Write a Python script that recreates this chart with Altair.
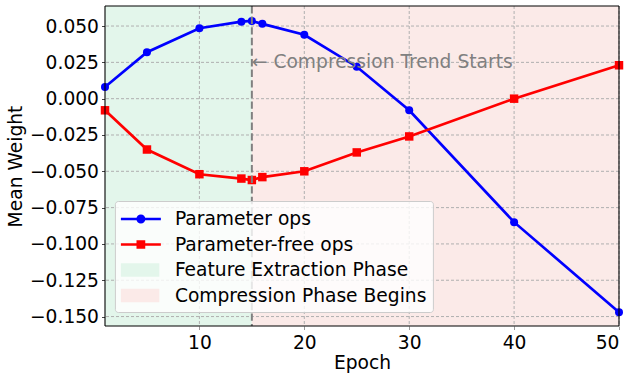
import altair as alt
import pandas as pd

# ---------------- data ----------------
epochs = [1, 5, 10, 14, 15, 16, 20, 25, 30, 40, 50]
param_ops = [0.008, 0.032, 0.0485, 0.053, 0.0535, 0.0515, 0.044, 0.022, -0.008, -0.085, -0.147]
param_free_ops = [-0.008, -0.035, -0.052, -0.055, -0.056, -0.054, -0.050, -0.037, -0.026, 0.000, 0.023]

series_names = ["Parameter ops", "Parameter-free ops",
                "Feature Extraction Phase", "Compression Phase Begins"]
series_colors = ["#0000ff", "#ff0000", "#e3f6eb", "#fbeae8"]

phase_names = ["Feature Extraction Phase", "Compression Phase Begins"]
phase_start = [1, 15]
phase_end = [15, 50]

x_ticks = [10, 20, 30, 40, 50]
y_ticks = [-0.150, -0.125, -0.100, -0.075, -0.050, -0.025, 0.000, 0.025, 0.050]
x_domain = [1, 50]
y_domain = [-0.1565, 0.0638]

trend_epoch = [15]
annotation_text = ["\u2190 Compression Trend Starts"]
annotation_epoch = [15]
annotation_value = [0.025]

# ---------------- styling ----------------
FONT = "DejaVu Sans"
FS = 18.67

# legend symbol shapes (custom SVG paths, unit = 12 px at symbolSize 576)
LINE_CIRCLE = ("M-1,-0.11H2.33V0.11H-1Z "
               "M0.29,0A0.375,0.375 0 1,1 1.04,0A0.375,0.375 0 1,1 0.29,0Z")
LINE_SQUARE = "M-1,-0.11H2.33V0.11H-1Z M0.30,-0.36H1.03V0.36H0.30Z"
PATCH = "M-1,-0.56H2.2V0.56H-1Z"
shape_paths = [LINE_CIRCLE, LINE_SQUARE, PATCH, PATCH]

lines_df = pd.DataFrame({
    "epoch": epochs + epochs,
    "value": param_ops + param_free_ops,
    "series": [series_names[0]] * len(epochs) + [series_names[1]] * len(epochs),
})
bands_df = pd.DataFrame({"epoch": phase_start, "epoch_end": phase_end, "series": phase_names})
xgrid_df = pd.DataFrame({"epoch": x_ticks})
ygrid_df = pd.DataFrame({"value": y_ticks})
xframe_df = pd.DataFrame({"epoch": x_domain})
yframe_df = pd.DataFrame({"value": y_domain})
vrule_df = pd.DataFrame({"epoch": trend_epoch})
text_df = pd.DataFrame({"epoch": annotation_epoch, "value": annotation_value, "text": annotation_text})
legend_df = pd.DataFrame({"series": series_names})

x_scale = alt.Scale(domain=x_domain, nice=False, zero=False)
y_scale = alt.Scale(domain=y_domain, nice=False, zero=False)
color_scale = alt.Scale(domain=series_names, range=series_colors)

x_axis = alt.Axis(values=x_ticks, title="Epoch", grid=False, domain=False,
                  format="d", tickSize=3.5, tickColor="#999999", labelPadding=4,
                  titleY=42, titleBaseline="alphabetic")
y_axis = alt.Axis(values=y_ticks, title="Mean Weight", grid=False, domain=False,
                  labelExpr="replace(format(datum.value, '.3f'), '-', '\u2212')",
                  tickSize=3.5, tickColor="#444444", labelPadding=3,
                  titleX=-89.5, titleY=160, titleBaseline="middle")

X = alt.X("epoch:Q", scale=x_scale, axis=x_axis)
Y = alt.Y("value:Q", scale=y_scale, axis=y_axis)


def band(i):
    return alt.Chart(bands_df).transform_filter(
        alt.datum.series == phase_names[i]
    ).mark_rect(opacity=1, color=series_colors[2 + i]).encode(x=X, x2="epoch_end:Q")


def series_line(i):
    return alt.Chart(lines_df).transform_filter(
        alt.datum.series == series_names[i]
    ).mark_line(strokeWidth=2.67, color=series_colors[i]).encode(x=X, y=Y)


xgrid = alt.Chart(xgrid_df).mark_rule(color="#b0b0b0", strokeWidth=1, strokeDash=[3, 2]).encode(x=X)
ygrid = alt.Chart(ygrid_df).mark_rule(color="#b0b0b0", strokeWidth=1, strokeDash=[3, 2]).encode(y=Y)
xframe = alt.Chart(xframe_df).mark_rule(color="black", strokeWidth=1.1).encode(x=X)
yframe = alt.Chart(yframe_df).mark_rule(color="black", strokeWidth=1.1).encode(y=Y)

circles = alt.Chart(lines_df).transform_filter(
    alt.datum.series == series_names[0]
).mark_point(shape="circle", filled=True, size=64, opacity=1, color=series_colors[0]).encode(x=X, y=Y)
squares = alt.Chart(lines_df).transform_filter(
    alt.datum.series == series_names[1]
).mark_point(shape="square", filled=True, size=72, opacity=1, color=series_colors[1]).encode(x=X, y=Y)

vrule = alt.Chart(vrule_df).mark_rule(color="#808080", strokeWidth=2, strokeDash=[7.4, 3.2]).encode(x=X)
annot = alt.Chart(text_df).mark_text(
    align="left", baseline="middle", font=FONT, fontSize=FS, color="#808080"
).encode(x=X, y=Y, text="text:N")

legend = alt.Legend(
    orient="none", legendX=9.9, legendY=195, title=None,
    labelFont=FONT, labelFontSize=FS, labelColor="black", labelLimit=400,
    symbolSize=576, symbolStrokeWidth=0, symbolOpacity=1,
    labelOffset=30, rowPadding=3.5, padding=6,
    fillColor="rgba(255,255,255,0.8)", strokeColor="#cccccc", cornerRadius=3,
)
legend_layer = alt.Chart(legend_df).transform_filter("false").mark_point(
    filled=True, opacity=1, size=576
).encode(
    color=alt.Color("series:N", scale=color_scale, legend=legend),
    shape=alt.Shape("series:N", scale=alt.Scale(domain=series_names, range=shape_paths), legend=legend),
)

chart = alt.layer(
    band(0), band(1), xgrid, ygrid, series_line(0), series_line(1),
    circles, squares, vrule, annot, xframe, yframe, legend_layer
).properties(
    width=514, height=320,
    background="white",
    autosize=alt.AutoSizeParams(type="none"),
    padding={"left": 105, "top": 6, "right": 12, "bottom": 49},
).configure_view(
    stroke=None
).configure_axis(
    labelFont=FONT, labelFontSize=FS, labelColor="black",
    titleFont=FONT, titleFontSize=FS, titleFontWeight="normal", titleColor="black",
)

chart.save("out.html", embed_options={"renderer": "svg", "actions": False})
